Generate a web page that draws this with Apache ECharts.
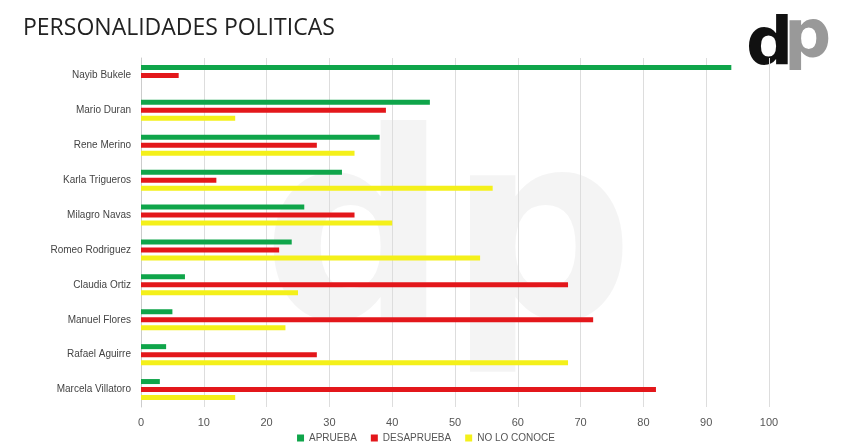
<!DOCTYPE html>
<html><head><meta charset="utf-8">
<script src="https://cdn.jsdelivr.net/npm/echarts@6/dist/echarts.min.js"></script>
<style>html,body{margin:0;padding:0;background:#fff}#c{width:852px;height:444px}</style>
</head><body><div id="c"></div>
<script>
const categories = ["Nayib Bukele","Mario Duran","Rene Merino","Karla Trigueros","Milagro Navas","Romeo Rodriguez","Claudia Ortiz","Manuel Flores","Rafael Aguirre","Marcela Villatoro"];
const aprueba = [94,46,38,32,26,24,7,5,4,3];
const desaprueba = [6,39,28,12,34,22,68,72,28,82];
const noLoConoce = [0,15,34,56,40,54,25,23,68,15];
const seriesNames = ["APRUEBA","DESAPRUEBA","NO LO CONOCE"];
const colors = ["#0fa54a","#e3171b","#f4f01a"];
const chart = echarts.init(document.getElementById('c'));
chart.setOption({
  animation:false,
  title:{text:"PERSONALIDADES POLITICAS",left:18,top:12,textStyle:{fontFamily:"Open Sans",fontWeight:"normal",fontSize:23,color:"#222"}},
  graphic:[
    {type:'text',left:262,top:120,z:-10,style:{text:'dp',font:'bold 260px "DejaVu Sans"',fill:'rgba(0,0,0,0.045)'}},
    {type:'text',left:746,top:14,style:{text:'d',font:'bold 66px "DejaVu Sans"',fill:'#111'}},
    {type:'text',left:784,top:6,style:{text:'p',font:'bold 66px "DejaVu Sans"',fill:'#999'}}
  ],
  legend:{bottom:-4,left:'center',itemWidth:7,itemHeight:7,icon:'rect',itemGap:14,textStyle:{fontSize:10,color:'#555'},data:seriesNames},
  grid:{left:141,right:83,top:58,bottom:37},
  xAxis:{type:'value',min:0,max:100,interval:10,axisLabel:{color:'#555',fontSize:11,margin:10},splitLine:{lineStyle:{color:'#ddd'}},axisLine:{show:false},axisTick:{show:false}},
  yAxis:{type:'category',inverse:true,data:categories,axisLabel:{color:'#444',fontSize:10,margin:10},axisTick:{show:false},axisLine:{lineStyle:{color:'#ccc'}}},
  series:[aprueba,desaprueba,noLoConoce].map((d,i)=>({name:seriesNames[i],type:'bar',data:d,barWidth:5,barGap:'60%',itemStyle:{color:colors[i]}}))
});
</script></body></html>
